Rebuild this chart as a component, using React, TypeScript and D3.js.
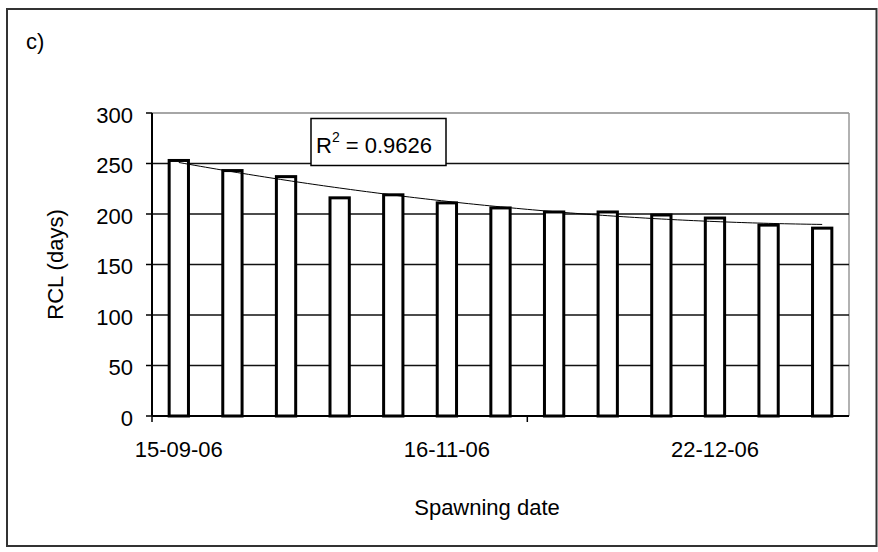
import React from "react";
import * as d3 from "d3";

// Data
const sampleIndex = [1, 2, 3, 4, 5, 6, 7, 8, 9, 10, 11, 12, 13];
const rclDays = [253, 243, 237, 216, 219, 211, 206, 202, 202, 199, 196, 189, 186];
const xTickLabels = ["15-09-06", "16-11-06", "22-12-06"];
const xTickLabelAt = [0, 5, 10];
const xTickMarkAt = [0, 7];
const yTicks = [0, 50, 100, 150, 200, 250, 300];
const r2Text = "0.9626";

const W = 878;
const H = 552;
const FONT = "Arial, 'Liberation Sans', sans-serif";

function quadFit(xs: number[], ys: number[]) {
  // least squares y = a + b x + c x^2
  const n = xs.length;
  let s1 = 0, s2 = 0, s3 = 0, s4 = 0, sy = 0, sxy = 0, sx2y = 0;
  xs.forEach((x, i) => {
    const y = ys[i];
    s1 += x; s2 += x * x; s3 += x * x * x; s4 += x * x * x * x;
    sy += y; sxy += x * y; sx2y += x * x * y;
  });
  const M = [
    [n, s1, s2, sy],
    [s1, s2, s3, sxy],
    [s2, s3, s4, sx2y],
  ];
  for (let i = 0; i < 3; i++) {
    for (let k = i + 1; k < 3; k++) {
      const f = M[k][i] / M[i][i];
      for (let j = i; j < 4; j++) M[k][j] -= f * M[i][j];
    }
  }
  const c = M[2][3] / M[2][2];
  const b = (M[1][3] - M[1][2] * c) / M[1][1];
  const a = (M[0][3] - M[0][1] * b - M[0][2] * c) / M[0][0];
  return (x: number) => a + b * x + c * x * x;
}

export default function App() {
  const left = 152;
  const right = 849;
  const top = 113;
  const bottom = 416;

  const x = d3.scaleBand<number>().domain(sampleIndex).range([left, right]).padding(0);
  const y = d3.scaleLinear().domain([0, 300]).range([bottom, top]);
  const bw = x.bandwidth() * 0.36;
  const cx = (i: number) => (x(sampleIndex[i]) as number) + x.bandwidth() / 2;

  const fit = quadFit(sampleIndex, rclDays);
  const xLin = d3
    .scaleLinear()
    .domain([sampleIndex[0], sampleIndex[sampleIndex.length - 1]])
    .range([cx(0), cx(sampleIndex.length - 1)]);
  const trendPts = d3.range(0, 121).map((k) => {
    const xi = sampleIndex[0] + ((sampleIndex[sampleIndex.length - 1] - sampleIndex[0]) * k) / 120;
    return [xLin(xi), y(fit(xi))] as [number, number];
  });
  const trendPath = d3.line()(trendPts) || "";

  return (
    <svg
      width={W}
      height={H}
      style={{ position: "absolute", left: 0, top: 0, background: "#fff" }}
      fontFamily={FONT}
    >
      <rect x={0} y={0} width={W} height={H} fill="#fff" />
      {/* outer frame */}
      <rect x={7} y={9} width={869.5} height={537} fill="none" stroke="#333" strokeWidth={2} />
      <text x={26} y={49} fontSize={22} fill="#000">c)</text>

      {/* plot border top/right */}
      <line x1={left} x2={right} y1={top} y2={top} stroke="#888" strokeWidth={1.5} />
      <line x1={right} x2={right} y1={top} y2={bottom} stroke="#999" strokeWidth={1.5} />

      {/* gridlines */}
      {yTicks
        .filter((t) => t > 0 && t < 300)
        .map((t) => (
          <line key={t} x1={left} x2={right} y1={y(t)} y2={y(t)} stroke="#111" strokeWidth={1.5} />
        ))}

      {/* bars */}
      {rclDays.map((v, i) => (
        <rect
          key={i}
          x={cx(i) - bw / 2}
          y={y(v)}
          width={bw}
          height={bottom - y(v)}
          fill="#fff"
          stroke="#000"
          strokeWidth={3}
        />
      ))}

      {/* trendline */}
      <path d={trendPath} fill="none" stroke="#000" strokeWidth={1} />

      {/* axes */}
      <line x1={left} x2={left} y1={top} y2={bottom} stroke="#000" strokeWidth={2} />
      <line x1={left} x2={right} y1={bottom} y2={bottom} stroke="#000" strokeWidth={2} />
      {yTicks.map((t) => (
        <g key={t}>
          <line x1={left - 6} x2={left} y1={y(t)} y2={y(t)} stroke="#000" strokeWidth={1.5} />
          <text x={133} y={y(t) + 2} fontSize={22} textAnchor="end" dominantBaseline="central" fill="#000">
            {t}
          </text>
        </g>
      ))}
      {xTickMarkAt.map((k) => (
        <line
          key={k}
          x1={(x(sampleIndex[k]) as number)}
          x2={(x(sampleIndex[k]) as number)}
          y1={bottom}
          y2={bottom + 6}
          stroke="#000"
          strokeWidth={1.5}
        />
      ))}
      {xTickLabelAt.map((k, j) => (
        <text key={k} x={cx(k)} y={457} fontSize={22} textAnchor="middle" fill="#000">
          {xTickLabels[j]}
        </text>
      ))}

      {/* axis titles */}
      <text x={487} y={515} fontSize={22} textAnchor="middle" fill="#000">Spawning date</text>
      <text
        transform={`translate(63, ${(top + bottom) / 2}) rotate(-90)`}
        fontSize={22}
        textAnchor="middle"
        fill="#000"
      >
        RCL (days)
      </text>

      {/* R² label */}
      <rect x={311} y={118.5} width={135} height={47} fill="#fff" stroke="#000" strokeWidth={1.5} />
      <text x={316} y={153} fontSize={22} fill="#000">
        R
        <tspan fontSize={14} dy={-11}>2</tspan>
        <tspan dy={11}>{` = ${r2Text}`}</tspan>
      </text>
    </svg>
  );
}
